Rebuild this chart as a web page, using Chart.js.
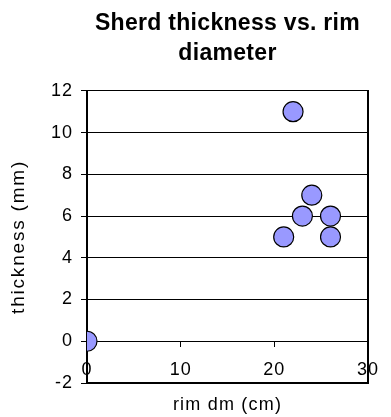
<!DOCTYPE html>
<html>
<head>
<meta charset="utf-8">
<script src="https://cdn.jsdelivr.net/npm/chart.js@4"></script>
<style>
  html, body { margin: 0; padding: 0; background: #fff; }
  #wrap { width: 391px; height: 417px; }
</style>
</head>
<body>
<div id="wrap"><canvas id="c" width="391" height="417"></canvas></div>
<script>
const titleLines = ['Sherd thickness vs. rim', 'diameter'];
const xTitle = 'rim dm (cm)';
const yTitle = 'thickness (mm)';
const rimDiameter = [0, 21, 22, 23, 24, 26, 26];
const thickness   = [0, 5, 11, 6, 7, 6, 5];
const xTicks = [0, 10, 20, 30];
const yTicks = [-2, 0, 2, 4, 6, 8, 10, 12];

const FONT = '"Liberation Sans", Arial, sans-serif';

// The reference text is drawn slightly wider than plain Arial; widen it with letter spacing.
(function () {
  const proto = CanvasRenderingContext2D.prototype;
  const fill = proto.fillText, measure = proto.measureText;
  function spacingFor(t) {
    t = String(t);
    if (t === yTitle) return '1.8px';
    if (t === xTitle) return '1.2px';
    if (titleLines.indexOf(t) >= 0) return '0.3px';
    return '1px';
  }
  proto.fillText = function (t, x, y, w) {
    if ('letterSpacing' in this) this.letterSpacing = spacingFor(t);
    return w === undefined ? fill.call(this, t, x, y) : fill.call(this, t, x, y, w);
  };
  proto.measureText = function (t) {
    if ('letterSpacing' in this) this.letterSpacing = spacingFor(t);
    return measure.call(this, t);
  };
})();

const points = rimDiameter.map((x, i) => ({ x: x, y: thickness[i] }));

new Chart(document.getElementById('c'), {
  type: 'scatter',
  data: {
    datasets: [{
      data: points,
      backgroundColor: '#9999ff',
      borderColor: '#000000',
      borderWidth: 1.2,
      pointRadius: 10,
      pointHoverRadius: 10,
      clip: 0
    }]
  },
  options: {
    responsive: false,
    animation: false,
    devicePixelRatio: 1,
    layout: { padding: 0 },
    plugins: {
      legend: { display: false },
      tooltip: { enabled: false },
      title: {
        display: true,
        fullSize: false,
        text: titleLines,
        color: '#000',
        font: { family: FONT, size: 23, weight: 'bold', lineHeight: 1.3 },
        padding: { top: 9, bottom: 22 }
      }
    },
    scales: {
      x: {
        type: 'linear',
        position: { y: 0 },
        min: xTicks[0],
        max: xTicks[xTicks.length - 1],
        afterBuildTicks: s => { s.ticks = xTicks.map(v => ({ value: v })); },
        afterFit: s => { s.height = 0; },
        border: { display: false },
        grid: { display: true, drawOnChartArea: false, drawTicks: true, tickLength: 6, color: '#000', lineWidth: 1 },
        ticks: { color: '#000', font: { family: FONT, size: 18 }, padding: 12, maxRotation: 0 }
      },
      x2: {
        type: 'linear',
        position: 'bottom',
        min: 0, max: 30,
        afterFit: s => { s.height = 34; },
        border: { display: true, color: '#000', width: 2 },
        grid: { display: true, drawOnChartArea: false, drawTicks: false },
        ticks: { display: false },
        title: { display: true, text: xTitle, color: '#000', font: { family: FONT, size: 18 }, padding: { top: 4, bottom: 1 } }
      },
      y: {
        type: 'linear',
        position: 'left',
        min: yTicks[0],
        max: yTicks[yTicks.length - 1],
        afterBuildTicks: s => { s.ticks = yTicks.map(v => ({ value: v })); },
        afterFit: s => { s.width = 87; },
        border: { display: true, color: '#000', width: 2 },
        grid: { display: true, drawOnChartArea: true, drawTicks: true, tickLength: 6, color: '#000', lineWidth: 1 },
        ticks: { color: '#000', font: { family: FONT, size: 18 }, padding: 8 },
        title: { display: true, text: yTitle, color: '#000', font: { family: FONT, size: 19 }, padding: { top: 7, bottom: 0 } }
      },
      y2: {
        type: 'linear',
        position: 'right',
        min: -2, max: 12,
        afterFit: s => { s.width = 15; },
        border: { display: true, color: '#000', width: 2 },
        grid: { display: true, drawOnChartArea: false, drawTicks: false },
        ticks: { display: false }
      }
    }
  }
});
</script>
</body>
</html>
